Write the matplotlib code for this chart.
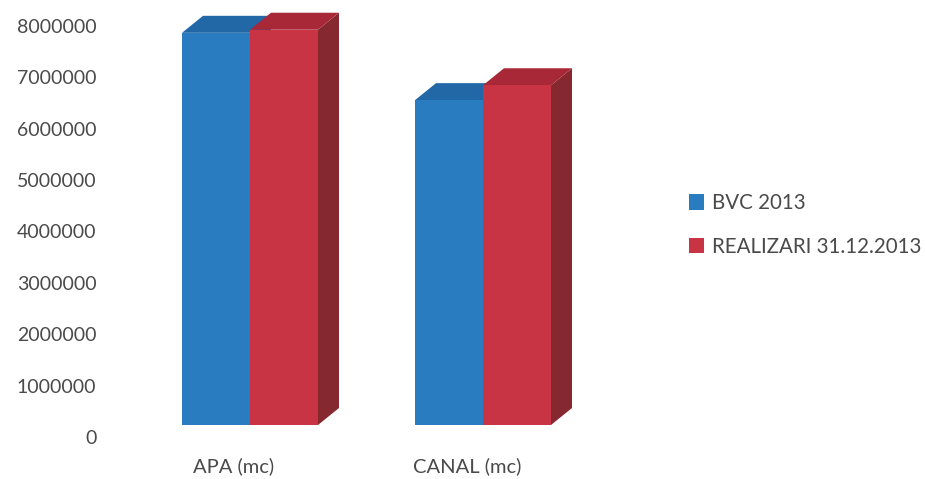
import matplotlib
matplotlib.use("Agg")
import matplotlib.pyplot as plt
from matplotlib.patches import Polygon, Patch
from matplotlib.transforms import ScaledTranslation
import numpy as np

categories = ["APA (mc)", "CANAL (mc)"]
series_names = ["BVC 2013", "REALIZARI 31.12.2013"]
bvc_2013 = [7630000, 6320000]
realizari = [7690000, 6610000]
yticks = [0, 1000000, 2000000, 3000000, 4000000, 5000000, 6000000, 7000000, 8000000]

front_colors = ["#2a7cc0", "#c93445"]
top_colors = ["#2268a6", "#a92838"]
side_colors = ["#1c5a90", "#86282f"]

plt.rcParams['font.family'] = ['Lato', 'DejaVu Sans']
txt_color = '#4a4a4a'

W, H = 925, 479
fig = plt.figure(figsize=(W / 100, H / 100), dpi=100)
px_per_cat = 233.0
px_per_unit = 51.4e-6
ax_left, ax_right, ax_bottom_px = 120, 640, 425
ax = fig.add_axes([ax_left / W, (H - ax_bottom_px) / H, (ax_right - ax_left) / W, ax_bottom_px / H])
ax.set_xlim(-(250 - ax_left) / px_per_cat, 1 + (ax_right - 483) / px_per_cat)
ax.set_ylim(0, ax_bottom_px / px_per_unit)

x = np.arange(len(categories))
w = 68 / px_per_cat
dx = 21 / px_per_cat
dy = 17 / px_per_unit

for i, vals in enumerate([bvc_2013, realizari]):
    offs = (i - 0.5) * w
    for xi, v in zip(x, vals):
        x0 = xi + offs - w / 2
        x1 = x0 + w
        ax.add_patch(Polygon([(x1, 0), (x1 + dx, dy), (x1 + dx, v + dy), (x1, v)],
                             closed=True, facecolor=side_colors[i], edgecolor='none', zorder=2 + 2 * i))
        ax.add_patch(Polygon([(x0, v), (x0 + dx, v + dy), (x1 + dx, v + dy), (x1, v)],
                             closed=True, facecolor=top_colors[i], edgecolor='none', zorder=2 + 2 * i))
    ax.bar(x + offs, vals, w, color=front_colors[i], edgecolor='none', zorder=3 + 2 * i,
           label=series_names[i])

for s in ax.spines.values():
    s.set_visible(False)
ax.set_yticks(yticks)
ax.set_yticklabels([str(t) for t in yticks], fontsize=14, color=txt_color)
ax.tick_params(axis='y', length=0, pad=17)
for lab in ax.get_yticklabels():
    lab.set_transform(lab.get_transform() + ScaledTranslation(0, -12 / 100, fig.dpi_scale_trans))

ax.set_xticks(x)
ax.set_xticklabels(categories, fontsize=14.5, color=txt_color)
ax.tick_params(axis='x', length=0, pad=23)
for lab in ax.get_xticklabels():
    lab.set_transform(lab.get_transform() + ScaledTranslation(-16 / 100, 0, fig.dpi_scale_trans))

handles = [Patch(facecolor=c, edgecolor='none') for c in front_colors]
fig.legend(handles, series_names, loc='center left', bbox_to_anchor=(689 / W, 1 - 225 / H),
           frameon=False, fontsize=14.8, handlelength=0.75, handleheight=0.75, handletextpad=0.35,
           labelspacing=1.15, labelcolor=txt_color, borderaxespad=0, borderpad=0)

fig.savefig("out.png", dpi=100)
